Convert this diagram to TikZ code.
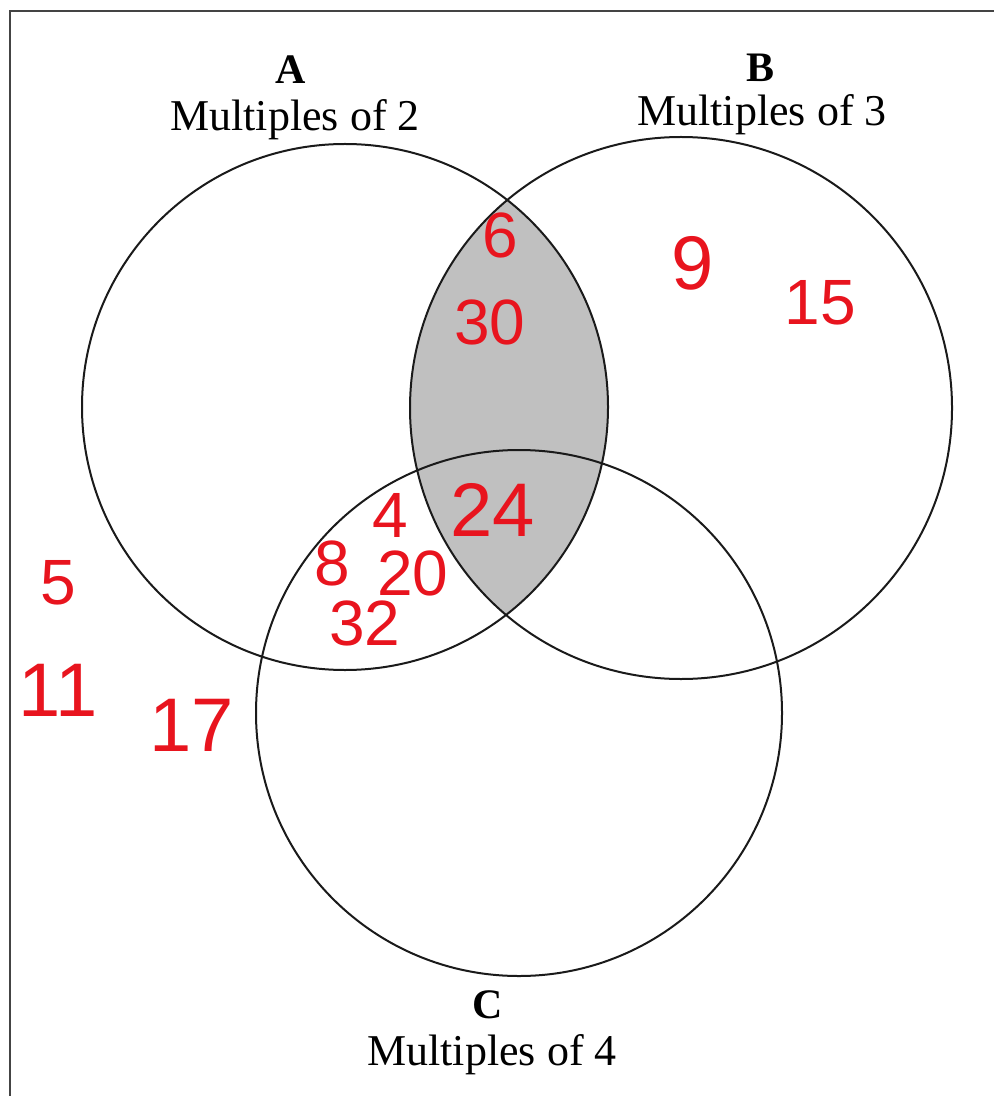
\documentclass[tikz,border=0pt]{standalone}
\usepackage{fontspec}
\usepackage{xcolor}
\setmainfont{Liberation Serif}
\newfontfamily\handfont{Liberation Sans}
\definecolor{penRed}{HTML}{E8141E}
\definecolor{shadeGray}{HTML}{C0C0C0}
\definecolor{lineGray}{HTML}{1A1A1A}
\definecolor{frameGray}{HTML}{444444}

\begin{document}
\begin{tikzpicture}[
  x=0.5pt, y=-0.5pt,
  setline/.style={draw=lineGray, line width=1pt},
  frameline/.style={draw=frameGray, line width=1.2pt},
  letter/.style={font=\fontsize{21}{21}\selectfont\bfseries, inner sep=0pt},
  caption/.style={font=\fontsize{22}{22}\selectfont, inner sep=0pt},
  num/.style={text=penRed, font=\handfont\fontsize{32}{32}\selectfont, inner sep=0pt},
  bignum/.style={num, font=\handfont\fontsize{38}{38}\selectfont},
]

\useasboundingbox (0,0) rectangle (994,1096);

% === FRAME ===
\draw[frameline] (10,1096) -- (10,11) -- (994,11);

% === SHADED REGION: A and B ===
\begin{scope}
  \clip (345,407) circle (131.5pt);
  \fill[shadeGray] (681,408) circle (135.5pt);
\end{scope}

% === CIRCLES ===
\draw[setline] (345,407) circle (131.5pt);
\draw[setline] (681,408) circle (135.5pt);
\draw[setline] (519,713) circle (131.5pt);

% === LABELS ===
\node[letter] (labA) at (291,70) {A};
\node[caption] (capA) at (295,120) {Multiples of 2};
\node[letter] (labB) at (760,68) {B};
\node[caption] (capB) at (762,115) {Multiples of 3};
\node[letter] (labC) at (488,1005) {C};
\node[caption] (capC) at (492,1055) {Multiples of 4};

% === NUMBERS ===
\node[num] (n6) at (500,235) {6};
\node[num] (n30) at (490,322) {30};
\node[bignum] (n9) at (693,263) {9};
\node[num] (n15) at (820,303) {15};
\node[num] (n4) at (390,515) {4};
\node[bignum] (n24) at (493,510) {24};
\node[num] (n8) at (332,563) {8};
\node[num] (n20) at (413,573) {20};
\node[num] (n32) at (365,623) {32};
\node[num] (n5) at (58,583) {5};
\node[bignum] (n11) at (58,690) {11};
\node[bignum] (n17) at (192,725) {17};

\end{tikzpicture}
\end{document}
